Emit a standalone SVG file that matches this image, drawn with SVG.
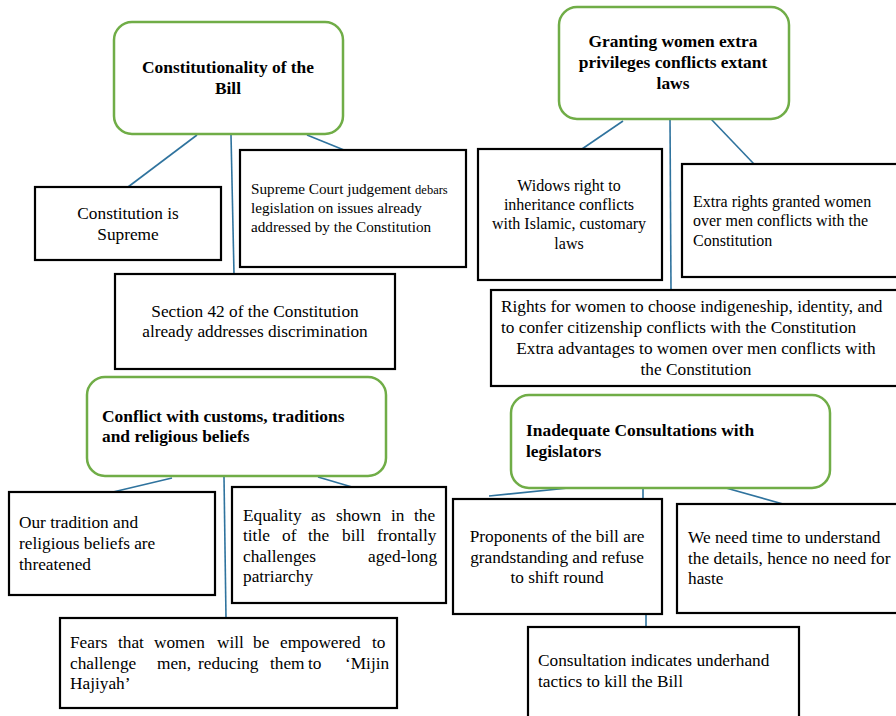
<svg xmlns="http://www.w3.org/2000/svg" width="896" height="716" viewBox="0 0 896 716">
<style>
.hub{fill:#fff;stroke:#70AD47;stroke-width:2.5}
.box{fill:#fff;stroke:#000;stroke-width:2.2}
.h{font-family:"Liberation Serif","Times New Roman",serif;font-weight:bold;font-size:17.4px;fill:#000}
.t{font-family:"Liberation Serif","Times New Roman",serif;font-size:17.3px;fill:#000}
.s{font-size:15.2px}
.m{font-size:16px}
.c{text-anchor:middle}
.ln{stroke:#2F739E;stroke-width:1.6;fill:none}
</style>
<rect width="896" height="716" fill="#fff"/>
<g id="connectors">
<line class="ln" x1="197" y1="135" x2="128" y2="187"/>
<line class="ln" x1="231" y1="135" x2="234" y2="274"/>
<line class="ln" x1="307" y1="135" x2="344" y2="150"/>
<line class="ln" x1="623" y1="121" x2="582" y2="149"/>
<line class="ln" x1="670" y1="118" x2="671" y2="290"/>
<line class="ln" x1="711" y1="119" x2="754" y2="164"/>
<line class="ln" x1="172" y1="478" x2="113" y2="492"/>
<line class="ln" x1="224" y1="477" x2="226" y2="618"/>
<line class="ln" x1="318" y1="477" x2="352" y2="487"/>
<line class="ln" x1="578" y1="487" x2="489" y2="496"/>
<line class="ln" x1="643" y1="487" x2="643" y2="499"/>
<line class="ln" x1="726" y1="488" x2="783" y2="504"/>
<line class="ln" x1="646" y1="614" x2="646" y2="627"/>
</g>
<g id="hub1">
<rect class="hub" x="114" y="22" width="229" height="112" rx="18"/>
<text class="h c" x="228" y="73">Constitutionality of the</text>
<text class="h c" x="228" y="94">Bill</text>
</g>
<g id="n1a">
<rect class="box" x="35" y="187" width="186" height="73"/>
<text class="t c" x="128" y="219">Constitution is</text>
<text class="t c" x="128" y="240">Supreme</text>
</g>
<g id="n1b">
<rect class="box" x="240" y="150" width="226" height="117"/>
<text class="t s" x="251" y="194">Supreme Court judgement <tspan font-size="12.5">debars</tspan></text>
<text class="t s" x="251" y="213">legislation on issues already</text>
<text class="t s" x="251" y="232">addressed by the Constitution</text>
</g>
<g id="n1c">
<rect class="box" x="115" y="274" width="280" height="95"/>
<text class="t c" x="255" y="317">Section 42 of the Constitution</text>
<text class="t c" x="255" y="337">already addresses discrimination</text>
</g>
<g id="hub2">
<rect class="hub" x="559" y="7" width="230" height="112" rx="18"/>
<text class="h c" x="673" y="47">Granting women extra</text>
<text class="h c" x="673" y="68">privileges conflicts extant</text>
<text class="h c" x="673" y="89">laws</text>
</g>
<g id="n2a">
<rect class="box" x="478" y="149" width="184" height="131"/>
<text class="t m c" x="569" y="191">Widows right to</text>
<text class="t m c" x="569" y="210">inheritance conflicts</text>
<text class="t m c" x="569" y="229">with Islamic, customary</text>
<text class="t m c" x="569" y="249">laws</text>
</g>
<g id="n2b">
<rect class="box" x="682" y="164" width="220" height="113"/>
<text class="t m" x="693" y="207">Extra rights granted women</text>
<text class="t m" x="693" y="226">over men conflicts with the</text>
<text class="t m" x="693" y="246">Constitution</text>
</g>
<g id="n2c">
<rect class="box" x="491" y="290" width="411" height="96"/>
<text class="t" x="501" y="312">Rights for women to choose indigeneship, identity, and</text>
<text class="t" x="501" y="333">to confer citizenship conflicts with the Constitution</text>
<text class="t c" x="696" y="354">Extra advantages to women over men conflicts with</text>
<text class="t c" x="696" y="375">the Constitution</text>
</g>
<g id="hub3">
<rect class="hub" x="87" y="377" width="299" height="99" rx="18"/>
<text class="h" x="102" y="422">Conflict with customs, traditions</text>
<text class="h" x="102" y="442">and religious beliefs</text>
</g>
<g id="n3a">
<rect class="box" x="9" y="492" width="206" height="103"/>
<text class="t" x="19" y="528">Our tradition and</text>
<text class="t" x="19" y="549">religious beliefs are</text>
<text class="t" x="19" y="570">threatened</text>
</g>
<g id="n3b">
<rect class="box" x="232" y="487" width="214" height="116"/>
<text class="t" y="521"><tspan x="243">Equality</tspan><tspan x="311">as</tspan><tspan x="336">shown</tspan><tspan x="391">in</tspan><tspan x="414">the</tspan></text>
<text class="t" y="541"><tspan x="243">title</tspan><tspan x="282">of</tspan><tspan x="308">the</tspan><tspan x="342">bill</tspan><tspan x="377">frontally</tspan></text>
<text class="t" y="562"><tspan x="243">challenges</tspan><tspan x="368">aged-long</tspan></text>
<text class="t" x="243" y="582">patriarchy</text>
</g>
<g id="n3c">
<rect class="box" x="60" y="618" width="337" height="90"/>
<text class="t" y="648"><tspan x="70">Fears</tspan><tspan x="118">that</tspan><tspan x="154">women</tspan><tspan x="217">will</tspan><tspan x="253">be</tspan><tspan x="280">empowered</tspan><tspan x="372">to</tspan></text>
<text class="t" y="669"><tspan x="70">challenge</tspan><tspan x="157">men,</tspan><tspan x="198">reducing</tspan><tspan x="270">them</tspan><tspan x="308">to</tspan><tspan x="345">‘Mijin</tspan></text>
<text class="t" x="70" y="689">Hajiyah’</text>
</g>
<g id="hub4">
<rect class="hub" x="511" y="395" width="319" height="93" rx="18"/>
<text class="h" x="526" y="436">Inadequate Consultations with</text>
<text class="h" x="526" y="457">legislators</text>
</g>
<g id="n4a">
<rect class="box" x="453" y="499" width="209" height="115"/>
<text class="t c" x="557" y="542">Proponents of the bill are</text>
<text class="t c" x="557" y="563">grandstanding and refuse</text>
<text class="t c" x="557" y="583">to shift round</text>
</g>
<g id="n4b">
<rect class="box" x="677" y="504" width="225" height="109"/>
<text class="t" x="688" y="543">We need time to understand</text>
<text class="t" x="688" y="564">the details, hence no need for</text>
<text class="t" x="688" y="584">haste</text>
</g>
<g id="n4c">
<rect class="box" x="528" y="627" width="271" height="95"/>
<text class="t" x="538" y="666">Consultation indicates underhand</text>
<text class="t" x="538" y="687">tactics to kill the Bill</text>
</g>
</svg>
